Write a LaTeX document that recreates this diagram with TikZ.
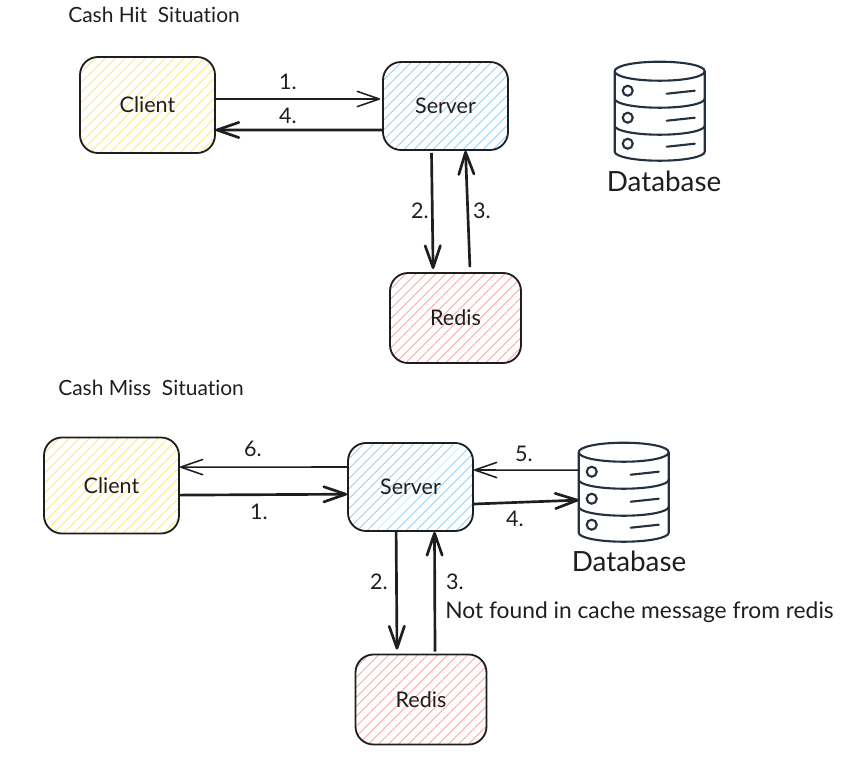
\documentclass[tikz,border=0pt]{standalone}
\usepackage{fontspec}
\setmainfont[Ligatures=NoCommon]{Lato}
\definecolor{inkblack}{RGB}{30,30,30}
\definecolor{dbnavy}{RGB}{36,48,64}
\definecolor{clienthatch}{RGB}{255,232,150}
\definecolor{serverhatch}{RGB}{165,215,250}
\definecolor{redishatch}{RGB}{250,180,180}
\usetikzlibrary{arrows.meta,patterns.meta}
\tikzset{
  dbicon/.pic={
    \draw[dbnavy,line width=1.5pt,line cap=round,line join=round]
      (0,9.5) .. controls (0,4) and (20,0) .. (45,0) .. controls (70,0) and (90,4) .. (90,9.5)
      .. controls (90,15) and (70,19) .. (45,19) .. controls (20,19) and (0,15) .. (0,9.5) -- (0,90)
      .. controls (0,95) and (20,99) .. (45,99) .. controls (70,99) and (90,95) .. (90,90) -- (90,9.5);
    \foreach \y in {37,64}{
      \draw[dbnavy,line width=1.5pt,line cap=round]
        (0,\y) .. controls (0,\y+5) and (20,\y+9) .. (45,\y+9) .. controls (70,\y+9) and (90,\y+5) .. (90,\y);
    }
    \foreach \y in {29,56,82}{
      \draw[dbnavy,line width=1.5pt] (13,\y) circle (5);
      \draw[dbnavy,line width=1.5pt,line cap=round] (52,\y+3) -- (80,\y);
    }
  }
}
\begin{document}
\begin{tikzpicture}[x=0.25mm,y=-0.25mm,font=\fontsize{15.3}{18}\selectfont,text=inkblack,
  hatchbox/.style={draw=inkblack,line width=1.3pt,rounded corners=4.5mm,inner sep=0pt,
    pattern={Lines[angle=45,distance=1.9mm,line width=0.8pt]}},
  clientbox/.style={hatchbox,pattern color=clienthatch,minimum width=33.75mm,minimum height=24mm},
  serverbox/.style={hatchbox,pattern color=serverhatch,minimum width=31.25mm,minimum height=22mm},
  redisbox/.style={hatchbox,pattern color=redishatch,minimum width=32.75mm,minimum height=22.5mm},
  dbspot/.style={inner sep=0pt,minimum width=22.5mm,minimum height=24.75mm},
  dblabel/.style={font=\fontsize{19.8}{23}\selectfont},
  titlelabel/.style={anchor=west,inner sep=0pt,font=\fontsize{14.9}{18}\selectfont},
  thinarrow/.style={-{Straight Barb[length=5.5mm,width=3.8mm,round]},inkblack,line width=1.1pt},
  thickarrow/.style={-{Straight Barb[length=5.5mm,width=3.8mm,round]},inkblack,line width=1.9pt}]
\useasboundingbox (0,0) rectangle (849,759);
% cache hit
\node[titlelabel] (hittitle) at (68,15) {Cash Hit\ \ Situation};
\node[clientbox] (clienta) at (147.5,105) {Client};
\node[serverbox] (servera) at (445.5,106) {Server};
\node[redisbox] (redisa) at (455.5,318) {Redis};
\node[dbspot] (dba) at (660,111.5) {};
\pic at (dba.north west) {dbicon};
\node[dblabel] (dbatext) at (664,181) {Database};
\draw[thinarrow] ([yshift=1.5mm]clienta.east) -- ([shift={(-0.5mm,1.75mm)}]servera.west);
\draw[thickarrow] ([yshift=-6mm]servera.west) -- ([yshift=-6.25mm]clienta.east);
\draw[thickarrow] ([shift={(-3.5mm,-0.5mm)}]servera.south) -- ([shift={(-5.6mm,0.75mm)}]redisa.north);
\draw[thickarrow] ([shift={(3.6mm,1.25mm)}]redisa.north) -- ([xshift=5mm]servera.south);
\node (hitone) at (288,82) {1.};
\node (hitfour) at (288,116) {4.};
\node (hittwo) at (420,211) {2.};
\node (hitthree) at (482,211) {3.};
% cache miss
\node[titlelabel] (misstitle) at (58,388) {Cash Miss\ \ Situation};
\node[clientbox] (clientb) at (111.5,485.5) {Client};
\node[serverbox] (serverb) at (410.5,487) {Server};
\node[redisbox] (redisb) at (421,699.5) {Redis};
\node[dbspot] (dbb) at (624,492.5) {};
\pic at (dbb.north west) {dbicon};
\node[dblabel] (dbbtext) at (629,561) {Database};
\draw[thinarrow] ([yshift=5mm]serverb.west) -- ([yshift=4.6mm]clientb.east);
\draw[thickarrow] ([yshift=-2.4mm]clientb.east) -- ([yshift=-1.8mm]serverb.west);
\draw[thickarrow] ([xshift=-3.6mm]serverb.south) -- ([shift={(-6mm,1mm)}]redisb.north);
\draw[thickarrow] ([shift={(3.5mm,0.5mm)}]redisb.north) -- ([xshift=6mm]serverb.south);
\draw[thinarrow] ([yshift=5.6mm]dbb.west) -- ([yshift=4.25mm]serverb.east);
\draw[thickarrow] ([yshift=-4.25mm]serverb.east) -- ([yshift=-1.9mm]dbb.west);
\node (missone) at (259,512) {1.};
\node (misssix) at (253,449) {6.};
\node (misstwo) at (379,582) {2.};
\node (missthree) at (455,582) {3.};
\node (missfive) at (524,454) {5.};
\node (missfour) at (515,519) {4.};
\node[titlelabel,font=\fontsize{16.2}{19}\selectfont] (missnote) at (445,612) {Not found in cache message from redis};
\end{tikzpicture}
\end{document}
